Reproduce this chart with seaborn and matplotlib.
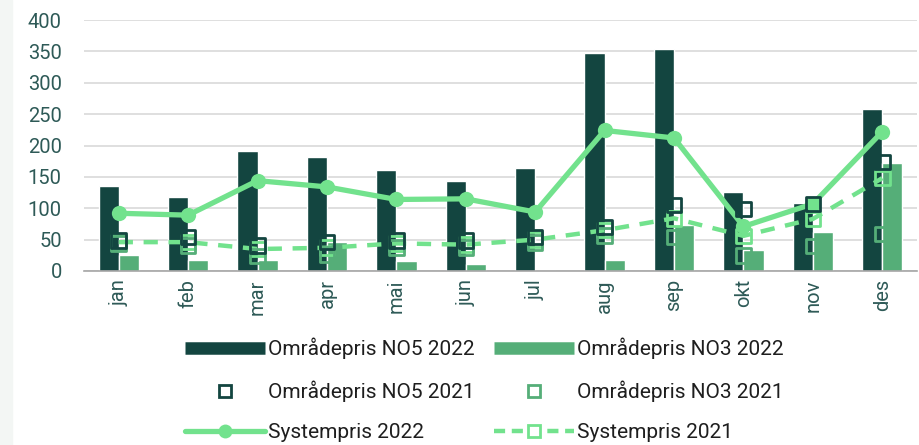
import numpy as np
import pandas as pd
import matplotlib
matplotlib.use("Agg")
import matplotlib.pyplot as plt
from matplotlib.lines import Line2D
import seaborn as sns

months = ["jan", "feb", "mar", "apr", "mai", "jun", "jul", "aug", "sep", "okt", "nov", "des"]
no5_2022 = [135, 118, 192, 181, 161, 144, 164, 347, 353, 126, 108, 258]
no3_2022 = [26, 18, 18, 46, 16, 11, 0, 17, 74, 33, 62, 172]
no5_2021 = [49, 54, 41, 46, 49, 49, 54, 70, 105, 99, 107, 174]
no3_2021 = [44, 41, 24, 26, 37, 37, 45, 57, 54, 25, 40, 59]
sys_2022 = [92, 89, 144, 134, 114, 115, 94, 224, 212, 71, 107, 222]
sys_2021 = [46, 46, 35, 37, 44, 42, 50, 65, 84, 56, 83, 148]
yticks = [0, 50, 100, 150, 200, 250, 300, 350, 400]

C_NO5 = "#134540"
C_NO3 = "#55ae78"
C_SYS = "#72e28d"
C_TICK = "#2e5a57"

sns.set_theme(style="white")
plt.rcParams["font.family"] = ["Roboto", "DejaVu Sans"]

fig = plt.figure(figsize=(9.19, 4.45), dpi=100)
fig.patches.append(plt.Rectangle((0, 0), 12 / 919, 1, transform=fig.transFigure,
                                 color="#f3f6f4", zorder=0))
ax = fig.add_axes([84 / 919, 1 - 271 / 445, (917 - 84) / 919, (271 - 20) / 445])

bars = pd.DataFrame({
    "month": months * 2,
    "value": no5_2022 + no3_2022,
    "series": ["Områdepris NO5 2022"] * 12 + ["Områdepris NO3 2022"] * 12,
})
sns.barplot(data=bars, x="month", y="value", hue="series", order=months,
            palette=[C_NO5, C_NO3], width=0.58, gap=0, saturation=1,
            legend=False, ax=ax, zorder=2)

idx = np.arange(len(months))
sns.lineplot(x=idx, y=sys_2021, color=C_SYS, lw=3.2, dashes=False, ax=ax, zorder=3)
ax.lines[-1].set_dashes([3.2, 2.4])
sns.lineplot(x=idx, y=sys_2022, color=C_SYS, lw=3.8, marker="o", markersize=11,
             markeredgewidth=0, ax=ax, zorder=4)
sns.scatterplot(x=idx, y=sys_2021, marker="s", s=110, facecolor="none",
                edgecolor=C_SYS, linewidth=2, ax=ax, zorder=5)
sns.scatterplot(x=idx, y=no3_2021, marker="s", s=110, facecolor="none",
                edgecolor=C_NO3, linewidth=2, ax=ax, zorder=5)
sns.scatterplot(x=idx, y=no5_2021, marker="s", s=110, facecolor="none",
                edgecolor=C_NO5, linewidth=2, ax=ax, zorder=6)

ax.set_xlim(-0.5, 11.5)
ax.set_ylim(0, 400)
ax.set_yticks(yticks)
ax.set_yticklabels([str(v) for v in yticks], fontsize=14.5, color=C_TICK)
ax.set_xticks(idx)
ax.set_xticklabels(months, rotation=90, fontsize=14.5, color=C_TICK)
ax.set_xlabel("")
ax.set_ylabel("")
ax.grid(axis="y", color="#d9d9d9", lw=1.2, zorder=0)
ax.set_axisbelow(True)
for s in ["top", "right", "left"]:
    ax.spines[s].set_visible(False)
ax.spines["bottom"].set_color("#a6a6a6")
ax.spines["bottom"].set_linewidth(1.2)
ax.tick_params(axis="y", length=0, pad=16)
ax.tick_params(axis="x", length=0, pad=6)

handles = [
    Line2D([], [], color=C_NO5, lw=9, solid_capstyle="butt"),
    Line2D([], [], ls="none", marker="s", markersize=8, markerfacecolor="white",
           markeredgecolor=C_NO5, markeredgewidth=2),
    Line2D([], [], color=C_SYS, lw=3.8, marker="o", markersize=10, markeredgewidth=0),
    Line2D([], [], color=C_NO3, lw=9, solid_capstyle="butt"),
    Line2D([], [], ls="none", marker="s", markersize=8, markerfacecolor="white",
           markeredgecolor=C_NO3, markeredgewidth=2),
    Line2D([], [], color=C_SYS, lw=3.2, dashes=[2.5, 1.5], marker="s", markersize=8,
           markerfacecolor="white", markeredgecolor=C_SYS, markeredgewidth=2),
]
labels = ["Områdepris NO5 2022", "Områdepris NO5 2021", "Systempris 2022",
          "Områdepris NO3 2022", "Områdepris NO3 2021", "Systempris 2021"]
leg = fig.legend(handles, labels, ncol=2, loc="upper center",
                 bbox_to_anchor=(0.527, 1 - 329 / 445), frameon=False, fontsize=15,
                 handlelength=3.85, handletextpad=0.15, columnspacing=0.9,
                 labelspacing=1.03, borderaxespad=0)
for t in leg.get_texts():
    t.set_color("#1e1e1e")

fig.savefig("out.png", dpi=100)
